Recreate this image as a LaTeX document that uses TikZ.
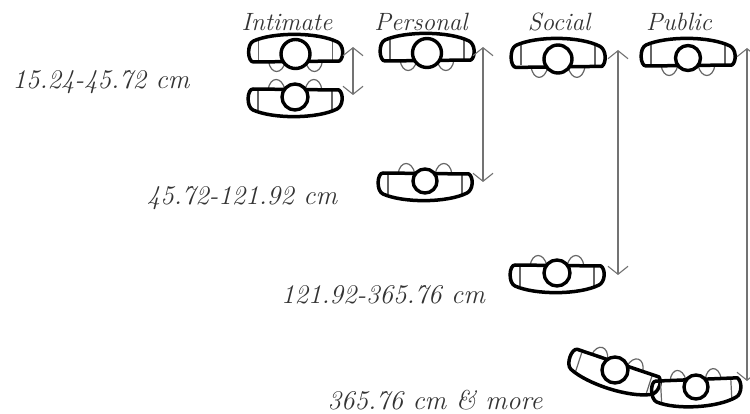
\documentclass[tikz,border=0pt]{standalone}
\usetikzlibrary{arrows.meta}
\tikzset{
  every picture/.style={x=1pt,y=-1pt},
  heading/.style={font=\fontsize{25}{27}\selectfont\itshape, text=black!80, inner sep=0pt, anchor=center},
  caption/.style={font=\fontsize{27}{30}\selectfont\itshape, text=black!80, inner sep=0pt, anchor=center},
  gaparrow/.style={draw=black!55, line width=1.1pt, {Straight Barb[length=8pt,width=20pt,line width=1.1pt]}-{Straight Barb[length=8pt,width=20pt,line width=1.1pt]}},
  body/.style={draw=black, line width=3.5pt, line join=round},
  limb/.style={draw=black!60, line width=1.2pt},
  headring/.style={circle, draw=black, fill=white, line width=3.4pt, inner sep=0pt},
  pics/person/.style={code={
    \draw[limb] (-27,7) .. controls (-25,21) and (-13,21) .. (-10,7);
    \draw[limb] (10,7) .. controls (13,21) and (25,21) .. (27,7);
    \draw[limb] (-37,-13) -- (-37,6);
    \draw[limb] (37,-13) -- (37,6);
    \draw[body] (-42,-13) .. controls (-22,-22) and (22,-22) .. (42,-12)
      .. controls (48,-9) and (49,3) .. (44,7) -- (-42,8)
      .. controls (-48,8) and (-49,-10) .. (-42,-13) -- cycle;
    \node[headring, minimum size=#1pt] (-head) at (0,0) {};
  }},
}
\begin{document}
\begin{tikzpicture}
\useasboundingbox (0,0) rectangle (750,414);
\node[heading] (tA) at (287,22) {Intimate};
\node[heading] (tB) at (421,22) {Personal};
\node[heading] (tC) at (559,22) {Social};
\node[heading] (tD) at (679,22) {Public};
\node[caption] (lA) at (101,82) {15.24-45.72 cm};
\node[caption] (lB) at (242,198) {45.72-121.92 cm};
\node[caption] (lC) at (383,295) {121.92-365.76 cm};
\node[caption] (lD) at (435,400) {365.76 cm \& more};

\pic (p1) at (295.5,54) {person=29};
\pic[yscale=-1] (p2) at (295,97) {person=26};
\pic (p3) at (427,53) {person=29};
\pic[yscale=-1] (p4) at (425,181) {person=24};
\pic[yscale=1.05] (p5) at (558,59) {person=28};
\pic[yscale=-1] (p6) at (557,273) {person=26};
\pic (p7) at (688,58) {person=25};
\pic[rotate=-18,yscale=-1] (p8) at (615,370) {person=26};
\pic[rotate=3,yscale=-1,xscale=.95] (p9) at (696,387) {person=24};

\coordinate (a1) at (353,47);  \coordinate (a2) at (353,95);
\coordinate (b1) at (483,47);  \coordinate (b2) at (483,182);
\coordinate (c1) at (618,50);  \coordinate (c2) at (618,275);
\coordinate (d1) at (747,48);  \coordinate (d2) at (747,381);
\draw[gaparrow] (a1) -- (a2);
\draw[gaparrow] (b1) -- (b2);
\draw[gaparrow] (c1) -- (c2);
\draw[gaparrow] (d1) -- (d2);
\end{tikzpicture}
\end{document}
